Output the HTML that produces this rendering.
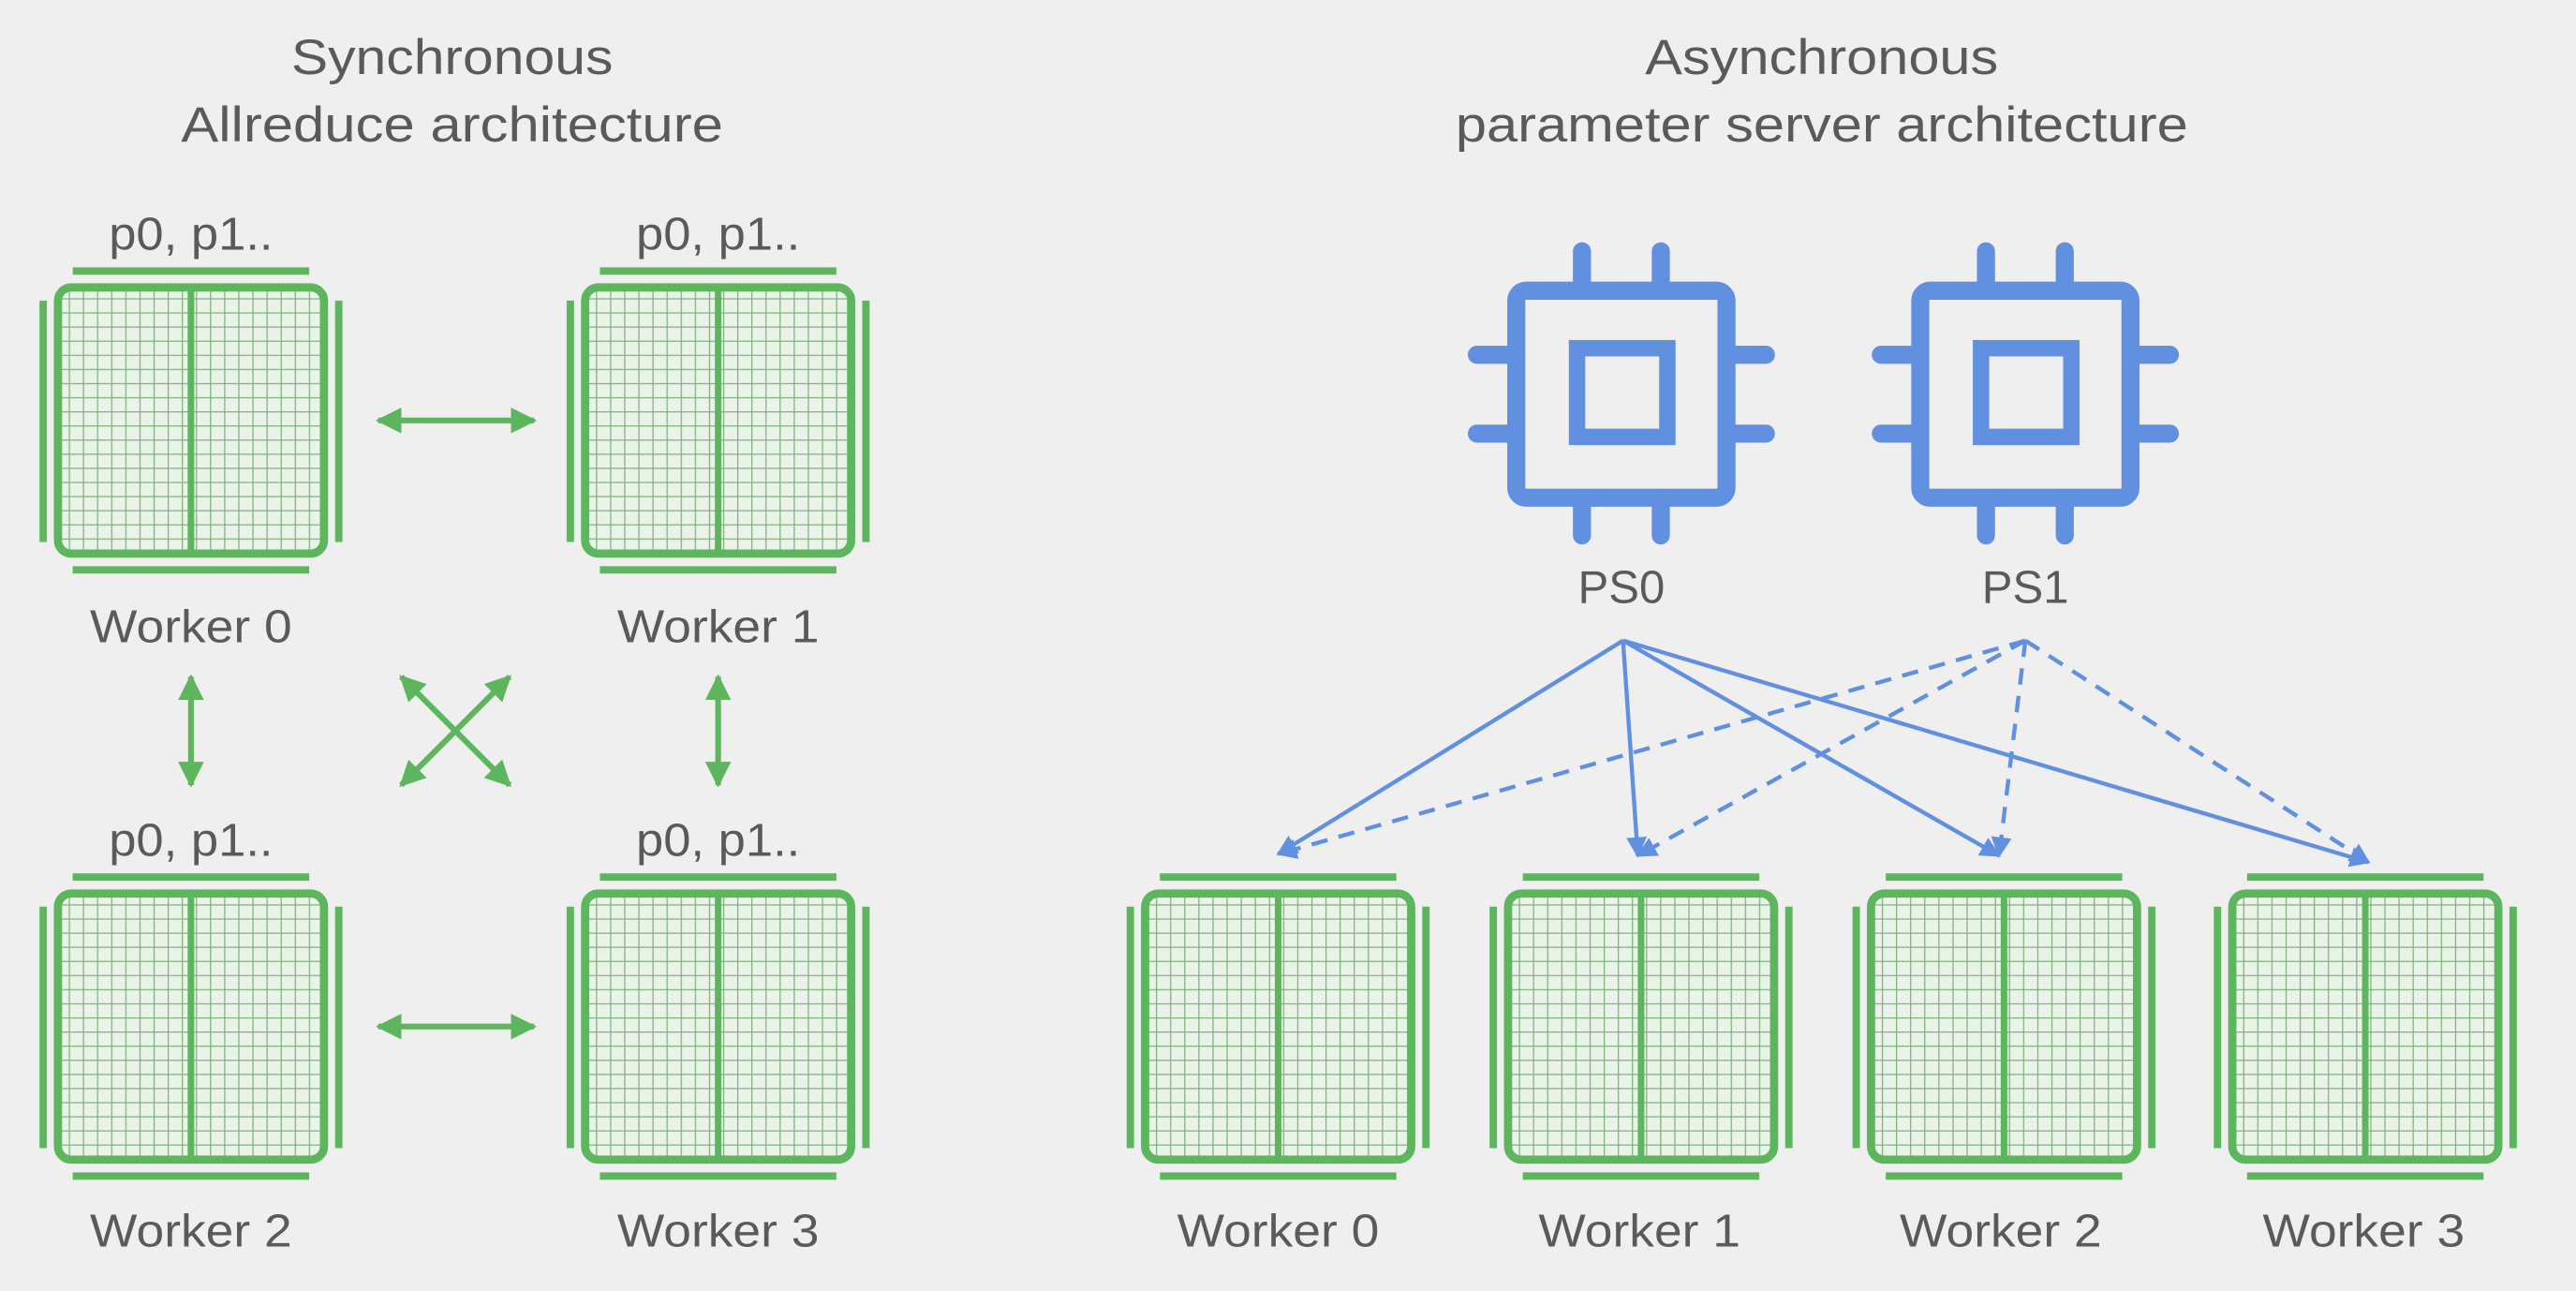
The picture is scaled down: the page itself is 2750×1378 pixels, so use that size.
<!DOCTYPE html>
<html><head><style>
html,body{margin:0;padding:0;background:#efefef;}
svg{display:block;}
text{font-family:"Liberation Sans",sans-serif;fill:#5a5a5a;}
</style></head><body>
<svg width="2750" height="1378" viewBox="0 0 1568 786" xmlns="http://www.w3.org/2000/svg">
<defs>
<pattern id="g" width="8.6" height="8.6" patternUnits="userSpaceOnUse">
<rect width="8.6" height="8.6" fill="#eaf3e8"/>
<path d="M0 0H8.6M0 0V8.6" stroke="#7fae7f" stroke-width="1.4"/>
</pattern>
<g id="chip">
<rect x="2" y="2" width="162" height="162" rx="8" fill="url(#g)" stroke="#5db65d" stroke-width="5"/>
<line x1="83" y1="2" x2="83" y2="164" stroke="#5db65d" stroke-width="4"/>
<line x1="11" y1="-8" x2="155" y2="-8" stroke="#5db65d" stroke-width="4.5"/>
<line x1="11" y1="174" x2="155" y2="174" stroke="#5db65d" stroke-width="4.5"/>
<line x1="-7" y1="10" x2="-7" y2="157" stroke="#5db65d" stroke-width="4.5"/>
<line x1="173" y1="10" x2="173" y2="157" stroke="#5db65d" stroke-width="4.5"/>
</g>
<g id="cpu" fill="none" stroke="#6190e0" stroke-width="11" stroke-linecap="round">
<rect x="-64" y="-63" width="128" height="126" rx="6" stroke-linecap="butt"/>
<rect x="-27" y="-28" width="55" height="54" stroke-width="10" stroke-linecap="butt"/>
<path d="M-24 -68V-87M24 -68V-87M-24 68V86M24 68V86M-69 -24H-88M-69 24H-88M69 -24H88M69 24H88"/>
</g>
<marker id="ab" viewBox="0 0 10 10" refX="9" refY="5" markerWidth="5" markerHeight="5" orient="auto-start-reverse"><path d="M0 0L10 5L0 10z" fill="#6190e0"/></marker>
<marker id="ag" viewBox="0 0 10 10" refX="9" refY="5" markerWidth="4.5" markerHeight="4.5" orient="auto-start-reverse"><path d="M0 0L10 5L0 10z" fill="#5db65d"/></marker>
</defs>
<rect width="1568" height="786" fill="#efefef"/>
<g font-size="30" text-anchor="middle" lengthAdjust="spacingAndGlyphs">
<text x="275" y="45" textLength="196" lengthAdjust="spacingAndGlyphs">Synchronous</text>
<text x="275" y="86" textLength="330" lengthAdjust="spacingAndGlyphs">Allreduce architecture</text>
<text x="1109" y="45" textLength="215" lengthAdjust="spacingAndGlyphs">Asynchronous</text>
<text x="1109" y="86" textLength="446" lengthAdjust="spacingAndGlyphs">parameter server architecture</text>
</g>
<g font-size="28" text-anchor="middle">
<text x="116" y="152" textLength="100" lengthAdjust="spacingAndGlyphs">p0, p1..</text>
<text x="437" y="152" textLength="100" lengthAdjust="spacingAndGlyphs">p0, p1..</text>
<text x="116" y="521" textLength="100" lengthAdjust="spacingAndGlyphs">p0, p1..</text>
<text x="437" y="521" textLength="100" lengthAdjust="spacingAndGlyphs">p0, p1..</text>
<text x="116" y="391" textLength="123" lengthAdjust="spacingAndGlyphs">Worker 0</text>
<text x="437" y="391" textLength="123" lengthAdjust="spacingAndGlyphs">Worker 1</text>
<text x="116" y="759" textLength="123" lengthAdjust="spacingAndGlyphs">Worker 2</text>
<text x="437" y="759" textLength="123" lengthAdjust="spacingAndGlyphs">Worker 3</text>
<text x="778" y="759" textLength="123" lengthAdjust="spacingAndGlyphs">Worker 0</text>
<text x="998" y="759" textLength="123" lengthAdjust="spacingAndGlyphs">Worker 1</text>
<text x="1218" y="759" textLength="123" lengthAdjust="spacingAndGlyphs">Worker 2</text>
<text x="1439" y="759" textLength="123" lengthAdjust="spacingAndGlyphs">Worker 3</text>
<text x="987" y="367">PS0</text>
<text x="1233" y="367">PS1</text>
</g>
<use href="#chip" x="33" y="173"/>
<use href="#chip" x="354" y="173"/>
<use href="#chip" x="33" y="542"/>
<use href="#chip" x="354" y="542"/>
<use href="#chip" x="695" y="542"/>
<use href="#chip" x="916" y="542"/>
<use href="#chip" x="1137" y="542"/>
<use href="#chip" x="1357" y="542"/>
<g stroke="#5db65d" stroke-width="3.5" marker-start="url(#ag)" marker-end="url(#ag)">
<line x1="230" y1="256" x2="325" y2="256"/>
<line x1="230" y1="625" x2="325" y2="625"/>
<line x1="116" y1="412" x2="116" y2="478"/>
<line x1="437" y1="412" x2="437" y2="478"/>
<line x1="244" y1="412" x2="310" y2="478"/>
<line x1="310" y1="412" x2="244" y2="478"/>
</g>
<use href="#cpu" x="987" y="240"/>
<use href="#cpu" x="1233" y="240"/>
<g stroke="#6190e0" stroke-width="2.5" fill="none" marker-end="url(#ab)">
<line x1="988" y1="390" x2="778" y2="520"/>
<line x1="988" y1="390" x2="997" y2="521"/>
<line x1="988" y1="390" x2="1217" y2="521"/>
<line x1="988" y1="390" x2="1442" y2="525"/>
</g>
<g stroke="#6190e0" stroke-width="2.5" fill="none" stroke-dasharray="10 7" marker-end="url(#ab)">
<line x1="1233" y1="390" x2="778" y2="520"/>
<line x1="1233" y1="390" x2="997" y2="521"/>
<line x1="1233" y1="390" x2="1217" y2="521"/>
<line x1="1233" y1="390" x2="1442" y2="525"/>
</g>
</svg>
</body></html>
